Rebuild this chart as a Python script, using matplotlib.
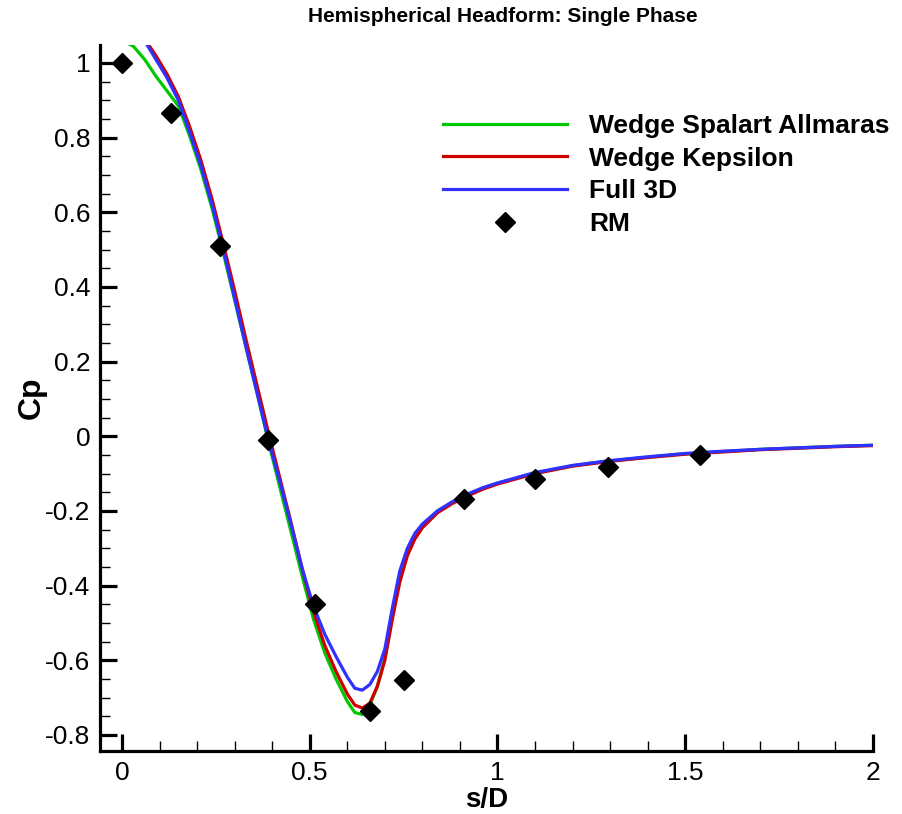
import matplotlib
matplotlib.use("Agg")
import matplotlib.pyplot as plt
from matplotlib.ticker import MultipleLocator, FuncFormatter

plt.rcParams['font.family'] = ['Liberation Sans', 'DejaVu Sans']
plt.rcParams['axes.unicode_minus'] = False

# --- Data ---
x_cfd = [0.0, 0.03, 0.06, 0.09, 0.12, 0.15, 0.18, 0.21, 0.24, 0.27, 0.30, 0.33,
         0.36, 0.39, 0.42, 0.45, 0.48, 0.51, 0.54, 0.57, 0.60, 0.62, 0.64, 0.66,
         0.68, 0.70, 0.72, 0.74, 0.76, 0.78, 0.80, 0.84, 0.88, 0.92, 0.96, 1.0,
         1.1, 1.2, 1.3, 1.4, 1.5, 1.6, 1.7, 1.8, 1.9, 2.0]

cp_wedge_sa = [1.06, 1.045, 1.01, 0.965, 0.925, 0.885, 0.805, 0.715, 0.61, 0.49,
               0.365, 0.24, 0.115, -0.015, -0.135, -0.255, -0.375, -0.49, -0.58,
               -0.65, -0.71, -0.74, -0.745, -0.72, -0.67, -0.595, -0.48, -0.38,
               -0.31, -0.27, -0.24, -0.2, -0.177, -0.157, -0.14, -0.126, -0.099,
               -0.079, -0.066, -0.056, -0.047, -0.041, -0.035, -0.031, -0.027, -0.024]

cp_wedge_ke = [1.13, 1.11, 1.065, 1.02, 0.97, 0.91, 0.83, 0.74, 0.635, 0.515,
               0.39, 0.26, 0.135, 0.01, -0.11, -0.23, -0.355, -0.47, -0.56,
               -0.63, -0.69, -0.72, -0.728, -0.715, -0.67, -0.60, -0.49, -0.39,
               -0.32, -0.275, -0.245, -0.205, -0.18, -0.16, -0.142, -0.128, -0.1,
               -0.08, -0.067, -0.057, -0.048, -0.042, -0.036, -0.032, -0.028, -0.025]

cp_full_3d = [1.12, 1.10, 1.06, 1.01, 0.96, 0.90, 0.815, 0.725, 0.62, 0.50,
              0.37, 0.24, 0.115, -0.01, -0.12, -0.235, -0.355, -0.455, -0.53,
              -0.59, -0.645, -0.675, -0.68, -0.665, -0.63, -0.57, -0.46, -0.36,
              -0.30, -0.26, -0.235, -0.2, -0.175, -0.155, -0.138, -0.125, -0.097,
              -0.078, -0.065, -0.055, -0.046, -0.04, -0.035, -0.031, -0.027, -0.024]

x_rm = [0.0, 0.13, 0.26, 0.39, 0.515, 0.66, 0.75, 0.91, 1.10, 1.294, 1.54]
cp_rm = [1.0, 0.866, 0.509, -0.01, -0.448, -0.737, -0.654, -0.169, -0.115, -0.083, -0.051]

# --- Plot ---
fig = plt.figure(figsize=(9.03, 8.14), dpi=100)
ax = fig.add_axes([0.1107, 0.0774, 0.8561, 0.8673])

ax.plot(x_cfd, cp_wedge_sa, color='#00c800', lw=2.3, label='Wedge Spalart Allmaras')
ax.plot(x_cfd, cp_wedge_ke, color='#d00000', lw=2.3, label='Wedge Kepsilon')
ax.plot(x_cfd, cp_full_3d, color='#3030ff', lw=2.3, label='Full 3D')
ax.plot(x_rm, cp_rm, 'D', color='black', ms=10, ls='none', label='RM', zorder=5)

ax.set_xlim(-0.0586, 2.0)
ax.set_ylim(-0.843, 1.048)

# --- Axes style (Tecplot-like) ---
for s in ['top', 'right']:
    ax.spines[s].set_visible(False)
for s in ['left', 'bottom']:
    ax.spines[s].set_linewidth(2.3)

ax.xaxis.set_major_locator(MultipleLocator(0.5))
ax.xaxis.set_minor_locator(MultipleLocator(0.1))
ax.yaxis.set_major_locator(MultipleLocator(0.2))
ax.yaxis.set_minor_locator(MultipleLocator(0.05))
fmt = FuncFormatter(lambda v, p: f"{round(v, 2):g}")
ax.xaxis.set_major_formatter(fmt)
ax.yaxis.set_major_formatter(fmt)

ax.tick_params(which='major', direction='in', length=12, width=2.3, labelsize=19, pad=7)
ax.tick_params(which='minor', direction='in', length=7, width=1.0)

ax.set_xlabel("s/D", fontsize=20, fontweight='bold', labelpad=2)
ax.set_ylabel("Cp", fontsize=23, fontweight='bold', labelpad=-1)

fig.text(503 / 903, 1 - 17 / 814, "Hemispherical Headform: Single Phase",
         ha='center', va='center', fontsize=15, fontweight='bold')

ax.legend(loc='upper left', bbox_to_anchor=(443 / 903, 1 - 114 / 814),
          bbox_transform=fig.transFigure, frameon=False,
          prop={'size': 19, 'weight': 'bold'}, handlelength=4.7,
          handletextpad=0.85, labelspacing=0.33, borderpad=0, borderaxespad=0)

fig.savefig("out.png", dpi=100)
